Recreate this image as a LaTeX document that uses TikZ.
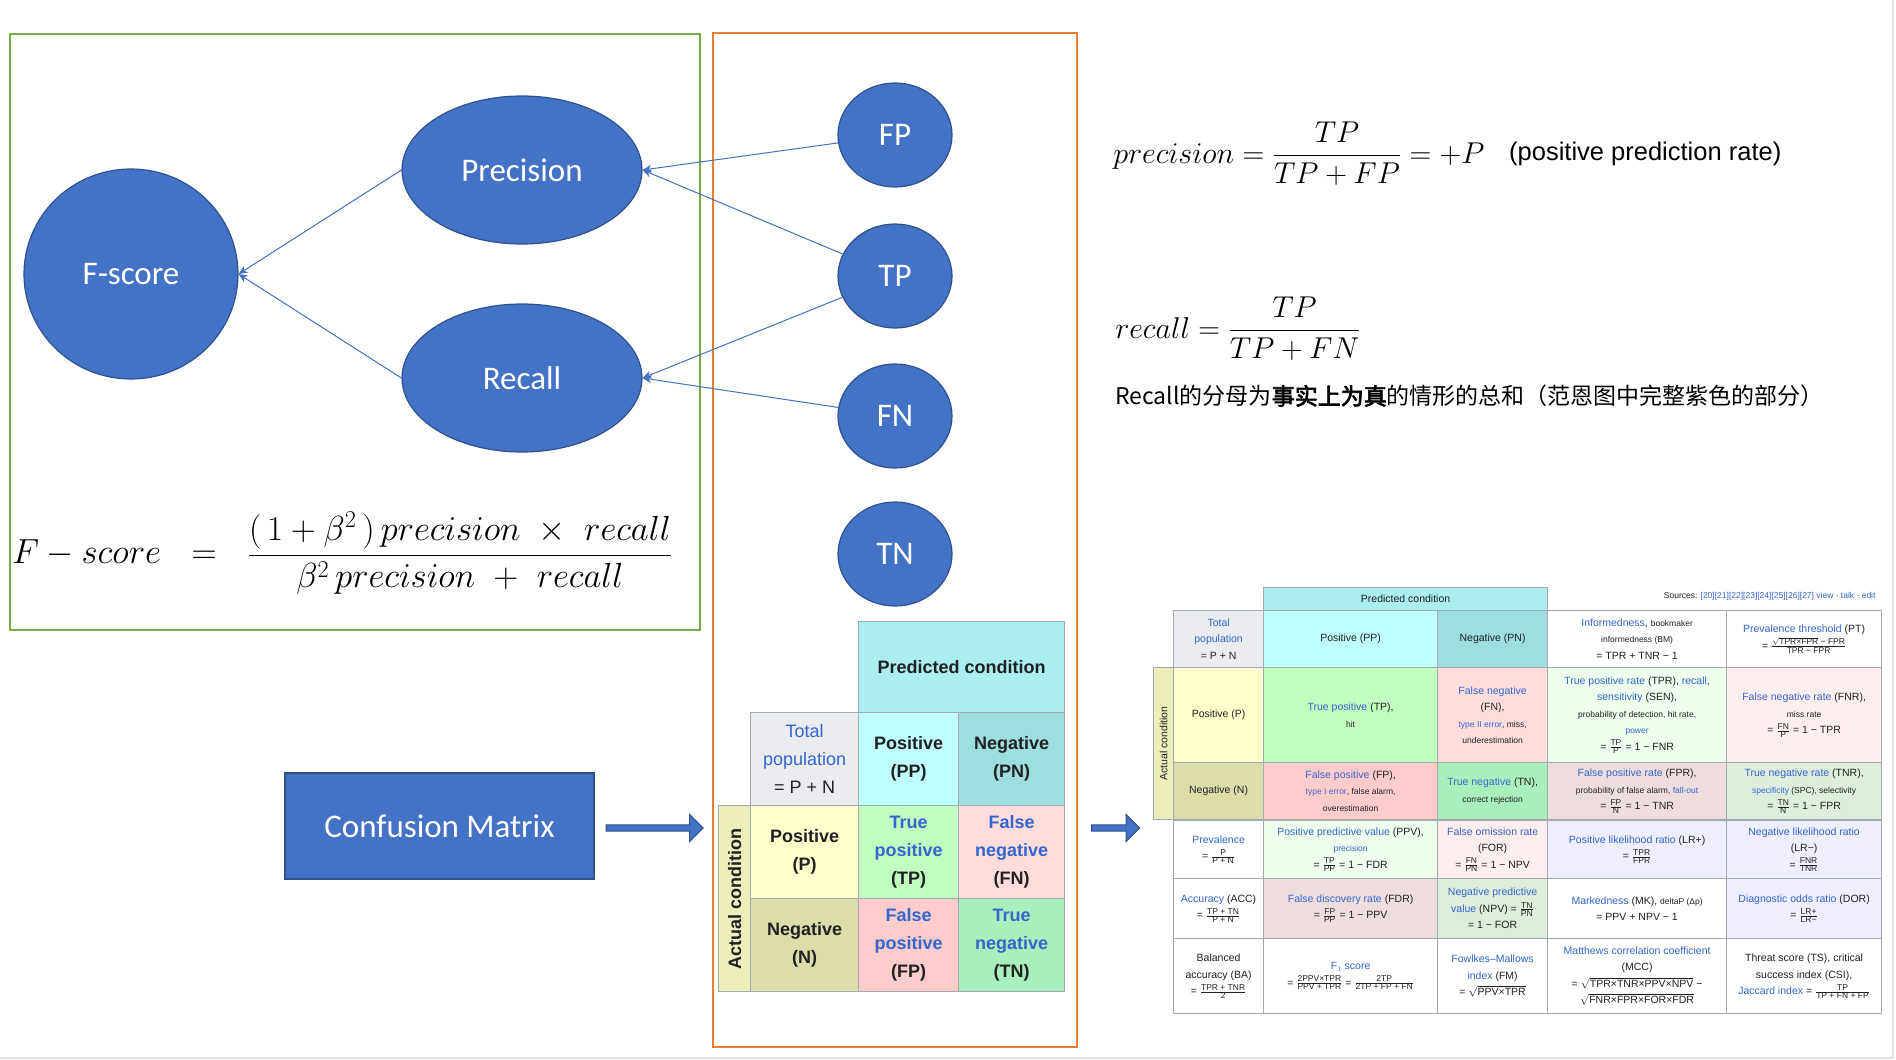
\documentclass[tikz,border=0pt]{standalone}
\usepackage{fontspec}
\setmainfont{Liberation Sans}
\newfontfamily\carl{Carlito}
\newfontfamily\cjk{Noto Sans CJK SC}[AutoFakeBold=3]
\usetikzlibrary{shapes.geometric,shapes.arrows,arrows.meta,calc}
\definecolor{bF}{HTML}{4472C4}
\definecolor{bD}{HTML}{2F528F}
\definecolor{gbox}{HTML}{70AD47}
\definecolor{obox}{HTML}{ED7D31}
\definecolor{lk}{HTML}{3366CC}
\definecolor{tx}{HTML}{202122}
\definecolor{grid}{HTML}{A2A9B1}
\definecolor{c1}{HTML}{EAECF0}\definecolor{c2}{HTML}{C0FFFF}\definecolor{c3}{HTML}{9EDEDC}
\definecolor{c4}{HTML}{EEEEBB}\definecolor{c5}{HTML}{FFFFCC}\definecolor{c6}{HTML}{DDDDAA}
\definecolor{c7}{HTML}{C0FFC0}\definecolor{c8}{HTML}{FFDDDD}\definecolor{c9}{HTML}{FFCCCC}
\definecolor{c10}{HTML}{AAEEBB}\definecolor{c11}{HTML}{EEFFEE}\definecolor{c12}{HTML}{FFEEEE}
\definecolor{c13}{HTML}{EEDDDD}\definecolor{c14}{HTML}{DDEEDD}\definecolor{c15}{HTML}{EEEEFF}
\definecolor{c16}{HTML}{AAEEEE}
\newcommand\bl[1]{\textcolor{lk}{#1}}
\newcommand\sm{\fontsize{8.5}{16.5}\selectfont}
\newcommand\fr[2]{$\frac{\mbox{\fontsize{8.5}{9}\selectfont #1}}{\mbox{\fontsize{8.5}{9}\selectfont #2}}$}
\newcommand\cell[7]{\node[cellst,fill=#6,minimum width=#4,minimum height=#5] (#1) at (#2,#3) {#7};}
\tikzset{
  cellst/.style={draw=grid,line width=1.2,anchor=north west,align=center,inner sep=0,text=tx,font=\fontsize{10.5}{16.5}\selectfont},
  bub/.style={ellipse,fill=bF,draw=bD,line width=1.2,text=white,font=\carl\fontsize{33}{36}\selectfont,inner sep=0},
  con/.style={draw=bF,line width=1,-{Stealth[length=9,width=8]}},
  barrow/.style={single arrow,fill=bF,draw=bD,line width=1,minimum height=97,single arrow head extend=8,minimum width=27,inner sep=2}
}
\begin{document}
\begin{tikzpicture}[x=1pt,y=-1pt]
\useasboundingbox (0,0) rectangle (1896,1060);
\fill[white] (0,0) rectangle (1896,1060);
\draw[black!12,line width=1.5] (0,1058) -- (1893,1058) -- (1893,0);
% boxes
\draw[gbox,line width=2] (10,34) rectangle (700,630);
\draw[obox,line width=2] (713,33) rectangle (1077,1047);
% bubbles
\node[bub,minimum width=214,minimum height=210] (F) at (131,274) {F-score};
\node[bub,minimum width=240,minimum height=148] (Pr) at (522,170) {Precision};
\node[bub,minimum width=240,minimum height=148] (Re) at (522,378) {Recall};
\node[bub,minimum width=114,minimum height=104] (FP) at (895,135) {FP};
\node[bub,minimum width=114,minimum height=104] (TP) at (895,276) {TP};
\node[bub,minimum width=114,minimum height=104] (FN) at (895,416) {FN};
\node[bub,minimum width=114,minimum height=104] (TN) at (895,554) {TN};
\draw[con] (FP) -- (Pr.east);
\draw[con] (TP) -- (Pr.east);
\draw[con] (TP) -- (Re.east);
\draw[con] (FN) -- (Re.east);
\draw[con] (Pr.west) -- (F.east);
\draw[con] (Re.west) -- (F.east);
% F-score formula
\node[anchor=west,inner sep=0,scale=1.4,transform shape] (ff) at (12,553) {\fontsize{27}{32}\selectfont$\displaystyle F-score\ \ =\ \ \frac{(\,1+\beta^2\,)\,precision\ \times\ recall}{\beta^2\,precision\ +\ recall}$};
% confusion matrix box
\node[fill=bF,draw=bD,line width=1.2,minimum width=309,minimum height=106,text=white,font=\carl\fontsize{33}{36}\selectfont] (CM) at (439.5,826) {Confusion Matrix};
\node[barrow] (A1) at (653,828) {};
\node[barrow,minimum height=48] (A2) at (1114,828) {};
% middle matrix
\begin{scope}[cellst/.append style={font=\fontsize{18}{28}\selectfont}]
\cell{mpc}{858}{621}{206}{91}{c16}{\textbf{Predicted condition}}
\cell{mtot}{750}{712}{108}{93}{c1}{\bl{Total}\\\bl{population}\\= P + N}
\cell{mpp}{858}{712}{100}{93}{c2}{\textbf{Positive}\\\textbf{(PP)}}
\cell{mpn}{958}{712}{106}{93}{c3}{\textbf{Negative}\\\textbf{(PN)}}
\cell{mac}{718}{805}{32}{186}{c4}{}
\cell{mp}{750}{805}{108}{93}{c5}{\textbf{Positive}\\\textbf{(P)}}
\cell{mn}{750}{898}{108}{93}{c6}{\textbf{Negative}\\\textbf{(N)}}
\cell{mtp}{858}{805}{100}{93}{c7}{\textbf{\bl{True}}\\\textbf{\bl{positive}}\\\textbf{(TP)}}
\cell{mfn}{958}{805}{106}{93}{c8}{\textbf{\bl{False}}\\\textbf{\bl{negative}}\\\textbf{(FN)}}
\cell{mfp}{858}{898}{100}{93}{c9}{\textbf{\bl{False}}\\\textbf{\bl{positive}}\\\textbf{(FP)}}
\cell{mtn}{958}{898}{106}{93}{c10}{\textbf{\bl{True}}\\\textbf{\bl{negative}}\\\textbf{(TN)}}
\end{scope}
\node[rotate=90,text=tx,font=\bfseries\fontsize{18}{20}\selectfont] (mact) at (mac.center) {Actual condition};
% right table
\cell{rpc}{1263}{587}{284}{23}{c16}{Predicted condition}
\node[anchor=east,text=tx,font=\fontsize{8.5}{10}\selectfont] (src) at (1879,596) {Sources: \bl{[20][21][22][23][24][25][26][27] view} · \bl{talk} · \bl{edit}};
\cell{rtot}{1173}{610}{90}{57}{c1}{\bl{Total}\\\bl{population}\\= P + N}
\cell{rpp}{1263}{610}{174}{57}{c2}{Positive (PP)}
\cell{rpn}{1437}{610}{110}{57}{c3}{Negative (PN)}
\cell{rbm}{1547}{610}{179}{57}{white}{\bl{Informedness}, {\sm bookmaker}\\{\sm informedness (BM)}\\= TPR + TNR − 1}
\cell{rpt}{1726}{610}{155}{57}{white}{\bl{Prevalence threshold} (PT)\\= \fr{$\sqrt{\mbox{TPR×FPR}}$ − FPR}{TPR − FPR}}
\cell{rac}{1153}{667}{20}{152}{c4}{}
\node[rotate=90,text=tx,font=\fontsize{10.5}{12}\selectfont] (ract) at (rac.center) {Actual condition};
\cell{rp}{1173}{667}{90}{95}{c5}{Positive (P)}
\cell{rtp}{1263}{667}{174}{95}{c7}{\bl{True positive} (TP),\\{\sm hit}}
\cell{rfn}{1437}{667}{110}{95}{c8}{\bl{False negative}\\(FN),\\{\sm\bl{type II error}, miss,}\\{\sm underestimation}}
\cell{rtpr}{1547}{667}{179}{95}{c11}{\bl{True positive rate} (TPR), \bl{recall},\\\bl{sensitivity} (SEN),\\{\sm probability of detection, hit rate,}\\{\sm\bl{power}}\\= \fr{TP}{P} = 1 − FNR}
\cell{rfnr}{1726}{667}{155}{95}{c12}{\bl{False negative rate} (FNR),\\{\sm miss rate}\\= \fr{FN}{P} = 1 − TPR}
\cell{rn}{1173}{762}{90}{57}{c6}{Negative (N)}
\cell{rfp}{1263}{762}{174}{57}{c9}{\bl{False positive} (FP),\\{\sm\bl{type I error}, false alarm,}\\{\sm overestimation}}
\cell{rtn}{1437}{762}{110}{57}{c10}{\bl{True negative} (TN),\\{\sm correct rejection}}
\cell{rfpr}{1547}{762}{179}{57}{c13}{\bl{False positive rate} (FPR),\\{\sm probability of false alarm, \bl{fall-out}}\\= \fr{FP}{N} = 1 − TNR}
\cell{rtnr}{1726}{762}{155}{57}{c14}{\bl{True negative rate} (TNR),\\{\sm\bl{specificity} (SPC), selectivity}\\= \fr{TN}{N} = 1 − FPR}
\cell{rprev}{1173}{820}{90}{58}{white}{\bl{Prevalence}\\= \fr{P}{P + N}}
\cell{rppv}{1263}{820}{174}{58}{c11}{\bl{Positive predictive value} (PPV),\\{\sm\bl{precision}}\\= \fr{TP}{PP} = 1 − FDR}
\cell{rfor}{1437}{820}{110}{58}{c12}{\bl{False omission rate}\\(FOR)\\= \fr{FN}{PN} = 1 − NPV}
\cell{rlrp}{1547}{820}{179}{58}{c15}{\bl{Positive likelihood ratio} (LR+)\\= \fr{TPR}{FPR}}
\cell{rlrn}{1726}{820}{155}{58}{c15}{\bl{Negative likelihood ratio}\\(LR−)\\= \fr{FNR}{TNR}}
\cell{racc}{1173}{878}{90}{60}{white}{\bl{Accuracy} (ACC)\\= \fr{TP + TN}{P + N}}
\cell{rfdr}{1263}{878}{174}{60}{c13}{\bl{False discovery rate} (FDR)\\= \fr{FP}{PP} = 1 − PPV}
\cell{rnpv}{1437}{878}{110}{60}{c14}{\bl{Negative predictive}\\\bl{value} (NPV) = \fr{TN}{PN}\\= 1 − FOR}
\cell{rmk}{1547}{878}{179}{60}{white}{\bl{Markedness} (MK), {\sm deltaP (Δp)}\\= PPV + NPV − 1}
\cell{rdor}{1726}{878}{155}{60}{c15}{\bl{Diagnostic odds ratio} (DOR)\\= \fr{LR+}{LR−}}
\cell{rba}{1173}{938}{90}{75}{white}{Balanced\\accuracy (BA)\\= \fr{TPR + TNR}{2}}
\cell{rf1}{1263}{938}{174}{75}{white}{\bl{F$_1$ score}\\= \fr{2PPV×TPR}{PPV + TPR} = \fr{2TP}{2TP + FP + FN}}
\cell{rfm}{1437}{938}{110}{75}{white}{\bl{Fowlkes–Mallows}\\\bl{index} (FM)\\= $\sqrt{\mbox{PPV×TPR}}$}
\cell{rmcc}{1547}{938}{179}{75}{white}{\bl{Matthews correlation coefficient}\\(MCC)\\= $\sqrt{\mbox{TPR×TNR×PPV×NPV}}$ −\\$\sqrt{\mbox{FNR×FPR×FOR×FDR}}$}
\cell{rts}{1726}{938}{155}{75}{white}{Threat score (TS), critical\\success index (CSI),\\\bl{Jaccard index} = \fr{TP}{TP + FN + FP}}
% right formulas
\node[anchor=west,inner sep=0,scale=1.21,transform shape] (fp) at (1113,154) {\fontsize{27}{32}\selectfont$\displaystyle precision=\frac{TP}{TP+FP}=+P$};
\node[anchor=west,inner sep=0] (fpt) at (1509,154) {\fontsize{25.5}{30}\selectfont (positive prediction rate)};
\node[anchor=west,inner sep=0,scale=1.21,transform shape] (fr) at (1115,329) {\fontsize{27}{32}\selectfont$\displaystyle recall=\frac{TP}{TP+FN}$};
\node[anchor=west,inner sep=0] (zh) at (1115,396) {\cjk\fontsize{23}{27}\selectfont Recall的分母为\textbf{事实上为真}的情形的总和（范恩图中完整紫色的部分）};
\end{tikzpicture}
\end{document}
